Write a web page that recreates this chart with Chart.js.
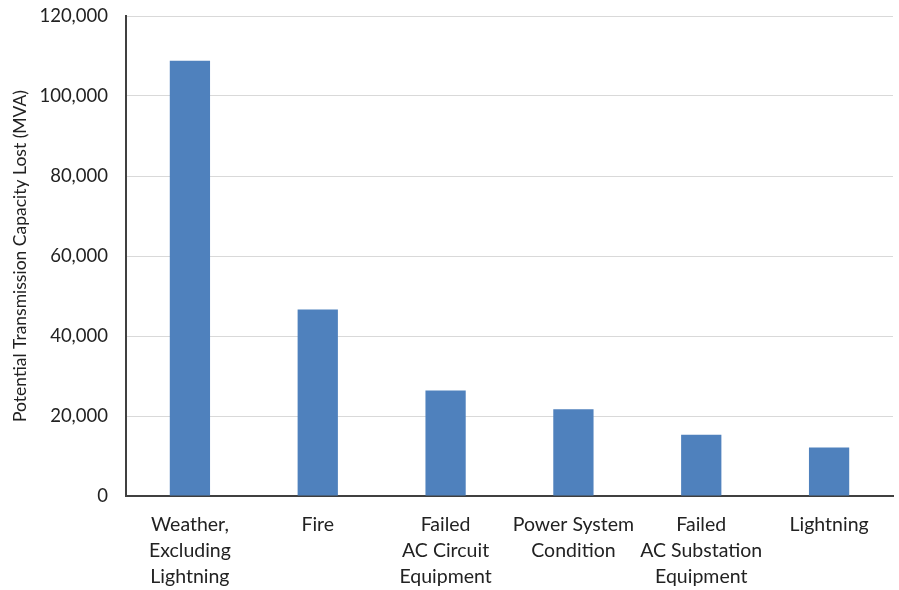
<!DOCTYPE html>
<html>
<head>
<meta charset="utf-8">
<script src="https://cdn.jsdelivr.net/npm/chart.js@4"></script>
<style>
  html, body { margin: 0; padding: 0; background: #fff; }
  #wrap { width: 899px; height: 590px; }
</style>
</head>
<body>
<div id="wrap"><canvas id="chart" width="899" height="590"></canvas></div>
<script>
// Transmission capacity lost by cause
const categories = [
  ["Weather,", "Excluding", "Lightning"],
  "Fire",
  ["Failed", "AC Circuit", "Equipment"],
  ["Power System", "Condition"],
  ["Failed", "AC Substation", "Equipment"],
  "Lightning",
];
const capacityLost = [108800, 46600, 26400, 21700, 15300, 12100];
const yTicks = [0, 20000, 40000, 60000, 80000, 100000, 120000];

const fontFamily = "Lato, 'Open Sans', sans-serif";

new Chart(document.getElementById("chart").getContext("2d"), {
  type: "bar",
  data: {
    labels: categories,
    datasets: [
      {
        label: "Potential Transmission Capacity Lost (MVA)",
        data: capacityLost,
        backgroundColor: "#4f81bd",
        borderWidth: 0,
        barPercentage: 1,
        categoryPercentage: 0.315,
      },
    ],
  },
  options: {
    responsive: false,
    animation: false,
    layout: { padding: { top: 16, right: 6, bottom: 0, left: 10 } },
    plugins: {
      legend: { display: false },
      tooltip: { enabled: false },
    },
    scales: {
      x: {
        grid: { display: false, drawTicks: false },
        border: { color: "#404040", width: 2 },
        ticks: {
          color: "#222",
          padding: 16,
          maxRotation: 0,
          autoSkip: false,
          font: { family: fontFamily, size: 19.5, lineHeight: 1.33 },
        },
        afterFit: (scale) => {
          scale.height = 94;
          scale.paddingLeft = 0;
          scale.paddingRight = 0;
        },
      },
      y: {
        min: 0,
        max: 120000,
        afterBuildTicks: (scale) => {
          scale.ticks = yTicks.map((v) => ({ value: v }));
        },
        grid: { color: "#d9d9d9", lineWidth: 1, drawTicks: false },
        border: { color: "#404040", width: 2 },
        ticks: {
          color: "#222",
          padding: 18,
          font: { family: fontFamily, size: 18.5 },
          callback: (v) => v.toLocaleString("en-US"),
        },
        title: {
          display: true,
          text: "Potential Transmission Capacity Lost (MVA)",
          color: "#222",
          padding: { top: 0, bottom: 0 },
          font: { family: fontFamily, size: 17.5 },
        },
        afterFit: (scale) => {
          scale.width = 116;
          scale.paddingTop = 0;
          scale.paddingBottom = 0;
        },
      },
    },
  },
});
</script>
</body>
</html>
